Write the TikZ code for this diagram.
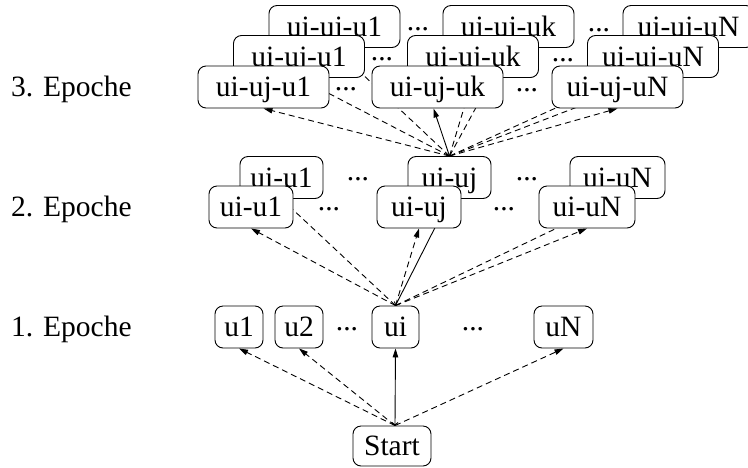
\documentclass[tikz,border=0pt]{standalone}
\usepackage{fontspec}
\setmainfont{Liberation Serif}
\usetikzlibrary{arrows.meta}
\pgfdeclarelayer{background}
\pgfsetlayers{background,main}

\tikzset{
  box/.style={draw, rounded corners=8pt, fill=white, inner sep=0pt,
    minimum height=42pt, text height=19pt, text depth=0pt, line width=0.9pt},
  epoch/.style={anchor=base west, inner sep=0pt},
  gap/.style={anchor=base, inner sep=0pt},
  link/.style={line width=0.9pt},
  dashlink/.style={link, dash pattern=on 6pt off 4pt,
    -{Triangle[length=9pt,width=5.5pt]}},
  solidlink/.style={link,
    {Straight Barb[length=2.5pt,width=6pt]}-{Triangle[length=9pt,width=5.5pt]}},
}

\begin{document}
\begin{tikzpicture}[x=1pt, y=-1pt, font=\fontsize{29.5}{35}\selectfont]
\useasboundingbox (0,0) rectangle (748,467);
\clip (0,0) rectangle (748,467);

% epoch labels
\node[epoch] (e3) at (11,96)  {3. Epoche};
\node[epoch] (e2) at (11,216) {2. Epoche};
\node[epoch] (e1) at (11,336) {1. Epoche};

% third epoch, three stacked rows (back to front)
\node[box, minimum width=131pt] (c1) at (334.5,26.5) {ui-uj-u1};
\node[box, minimum width=131pt] (ck) at (508.5,26.5) {ui-uj-uk};
\node[box, minimum width=131pt] (cN) at (688.5,26.5) {ui-uj-uN};
\node[box, minimum width=131pt] (b1) at (299,56.5) {ui-uj-u1};
\node[box, minimum width=131pt] (bk) at (473,56.5) {ui-uj-uk};
\node[box, minimum width=131pt] (bN) at (653,56.5) {ui-uj-uN};
\node[box, minimum width=131pt] (a1) at (263.5,87) {ui-uj-u1};
\node[box, minimum width=131pt] (ak) at (437.5,87) {ui-uj-uk};
\node[box, minimum width=131pt] (aN) at (617.5,87) {ui-uj-uN};

% second epoch, two stacked rows
\node[box, minimum width=83pt] (q1) at (281.5,177.5) {ui-u1};
\node[box, minimum width=83pt] (qj) at (449.5,177.5) {ui-uj};
\node[box, minimum width=95pt] (qN) at (617.5,177.5) {ui-uN};
\node[box, minimum width=84pt] (p1) at (251,207) {ui-u1};
\node[box, minimum width=84pt] (pj) at (419,207) {ui-uj};
\node[box, minimum width=96pt] (pN) at (587,207) {ui-uN};

% first epoch
\node[box, minimum width=48pt] (u1) at (239,327) {u1};
\node[box, minimum width=48pt] (u2) at (299,327) {u2};
\node[box, minimum width=47pt] (ui) at (395.5,327) {ui};
\node[box, minimum width=59pt] (uN) at (563.5,327) {uN};

% root
\node[box, minimum width=78pt, minimum height=40pt] (start) at (392,446) {Start};

% ellipses between boxes
\node[gap] (d1a) at (347,330) {...};
\node[gap] (d1b) at (473,330) {...};
\node[gap] (d2a) at (329,210) {...};
\node[gap] (d2b) at (504,210) {...};
\node[gap] (d2c) at (358,180) {...};
\node[gap] (d2d) at (527,180) {...};
\node[gap] (d3a) at (346,90) {...};
\node[gap] (d3b) at (527,91) {...};
\node[gap] (d3c) at (382,60) {...};
\node[gap] (d3d) at (563,61) {...};
\node[gap] (d3e) at (418,30) {...};
\node[gap] (d3f) at (599,31) {...};

\begin{pgfonlayer}{background}
  % Start -> first epoch
  \coordinate (s0) at ([xshift=3pt]start.north);
  \draw[dashlink] (s0) -- (u1.south);
  \draw[dashlink] (s0) -- (u2.south);
  \draw[dashlink] (s0) -- (uN.south);
  \draw[solidlink] (s0) -- (ui.south);

  % ui -> second epoch
  \draw[dashlink] (ui.north) -- (p1.south);
  \draw[dashlink] (ui.north) -- (q1.south);
  \draw[dashlink] (ui.north) -- (pj.south);
  \draw[dashlink] (ui.north) -- (pN.south);
  \draw[dashlink] (ui.north) -- (qN.south);
  \draw[solidlink] (ui.north) -- (qj.south);

  % ui-uj -> third epoch
  \draw[dashlink] (qj.north) -- (a1.south);
  \draw[dashlink] (qj.north) -- (b1.south);
  \draw[dashlink] (qj.north) -- (c1.south);
  \draw[dashlink] (qj.north) -- (bk.south);
  \draw[dashlink] (qj.north) -- (ck.south);
  \draw[dashlink] (qj.north) -- (aN.south);
  \draw[dashlink] (qj.north) -- (bN.south);
  \draw[dashlink] (qj.north) -- (cN.south);
  \draw[solidlink] (qj.north) -- ([xshift=-4pt]ak.south);
\end{pgfonlayer}
\end{tikzpicture}
\end{document}
